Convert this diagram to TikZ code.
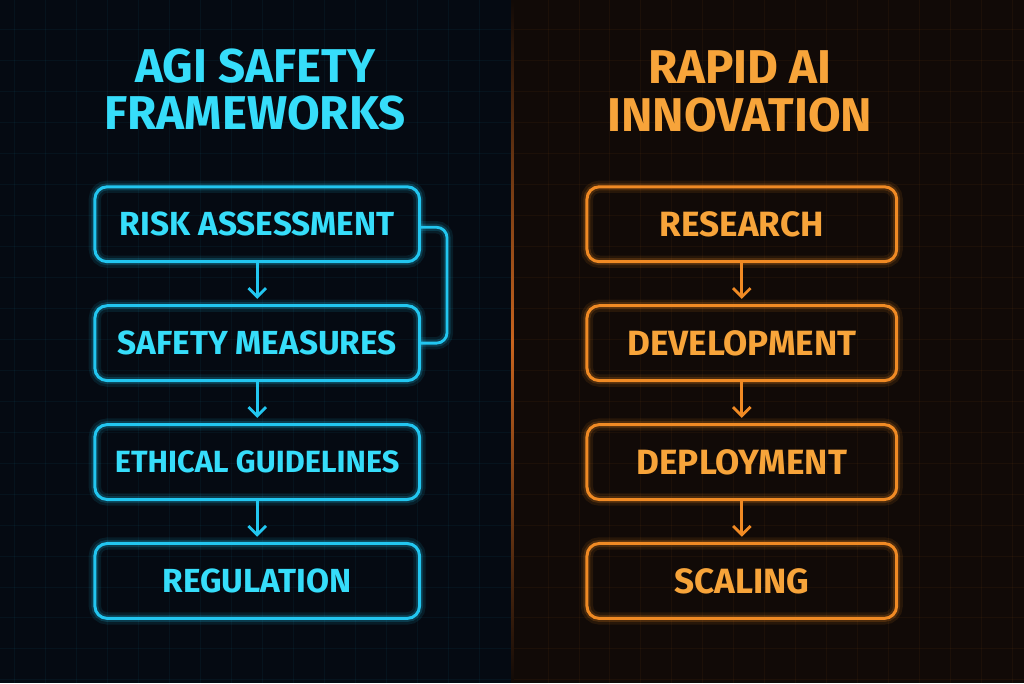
\documentclass[tikz,border=0pt]{standalone}
\usepackage{fontspec}
\setmainfont{Fira Sans}
\usetikzlibrary{arrows.meta}

\definecolor{bgleft}{HTML}{050A12}
\definecolor{bgright}{HTML}{110A07}
\definecolor{cyanline}{HTML}{22C6F0}
\definecolor{cyantext}{HTML}{36DDFA}
\definecolor{orangeline}{HTML}{F08A24}
\definecolor{orangetext}{HTML}{F7A43A}
\definecolor{divider}{HTML}{C8641E}

\begin{document}
\begin{tikzpicture}[x=0.02cm, y=-0.02cm,
    glow/.style={preaction={draw, line width=7pt, opacity=0.10},
                 preaction={draw, line width=4pt, opacity=0.18}},
    box/.style={draw, glow, rounded corners=7pt, line width=1.7pt,
                minimum width=6.5cm, minimum height=1.5cm,
                font=\bfseries\fontsize{19}{19}\selectfont},
    title/.style={align=center, font=\bfseries\fontsize{27}{27}\selectfont},
    flow/.style={line width=1.6pt, -{Straight Barb[length=5pt, width=10pt, line width=1.6pt]}, shorten >=3pt}]

    % background
    \fill[bgleft] (0, 0) rectangle (512, 683);
    \fill[bgright] (512, 0) rectangle (1024, 683);
    \foreach \y in {29, 60, ..., 683} {
      \draw[cyanline, opacity=0.05, line width=0.5pt] (0, \y) -- (512, \y);
      \draw[orangeline, opacity=0.05, line width=0.5pt] (512, \y) -- (1024, \y);
    }
    \foreach \x in {14, 45, ..., 500} {
      \draw[cyanline, opacity=0.05, line width=0.5pt] (\x, 0) -- (\x, 683);
    }
    \foreach \x in {548, 579, ..., 1024} {
      \draw[orangeline, opacity=0.05, line width=0.5pt] (\x, 0) -- (\x, 683);
    }
    \shade[top color=bgright, bottom color=bgright, middle color=divider] (511, 0) rectangle (513.5, 683);

    % left column
    \node[title, text=cyantext] (safetytitle) at (255, 89) {AGI SAFETY\\FRAMEWORKS};
    \begin{scope}[cyanline, text=cyantext]
      \node[box] (risk) at (257, 224) {RISK ASSESSMENT};
      \node[box] (measures) at (257, 343) {SAFETY MEASURES};
      \node[box, font=\bfseries\fontsize{17.5}{17.5}\selectfont] (ethics) at (257, 462) {ETHICAL GUIDELINES};
      \node[box] (regulation) at (257, 581) {REGULATION};

      \draw[flow] (risk) -- (measures);
      \draw[flow] (measures) -- (ethics);
      \draw[flow] (ethics) -- (regulation);
      \draw[glow, line width=1.6pt, rounded corners=6pt] (risk.east |- 0, 227) -| (447, 343) -- (measures.east);
    \end{scope}

    % right column
    \node[title, text=orangetext] (innovtitle) at (740, 91) {RAPID AI\\INNOVATION};
    \begin{scope}[orangeline, text=orangetext]
      \node[box, minimum width=6.2cm, font=\bfseries\fontsize{20}{20}\selectfont] (research) at (742, 224) {RESEARCH};
      \node[box, minimum width=6.2cm, font=\bfseries\fontsize{20}{20}\selectfont] (development) at (742, 343) {DEVELOPMENT};
      \node[box, minimum width=6.2cm, font=\bfseries\fontsize{20}{20}\selectfont] (deployment) at (742, 462) {DEPLOYMENT};
      \node[box, minimum width=6.2cm, font=\bfseries\fontsize{20}{20}\selectfont] (scaling) at (742, 581) {SCALING};

      \draw[flow] (research) -- (development);
      \draw[flow] (development) -- (deployment);
      \draw[flow] (deployment) -- (scaling);
    \end{scope}
  \end{tikzpicture}
\end{document}
